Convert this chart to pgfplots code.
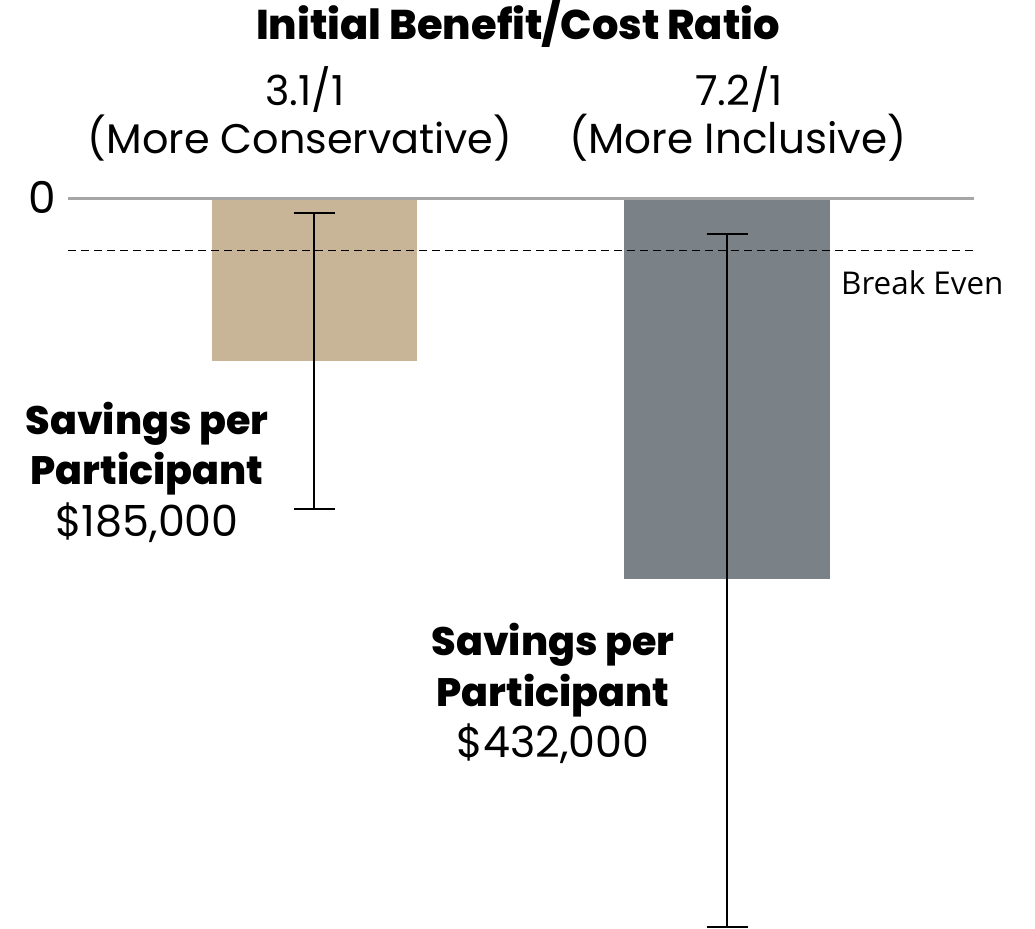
\documentclass[border=0pt]{standalone}
\usepackage{pgfplots}
\pgfplotsset{compat=1.18}
\usepackage{fontspec}
\setmainfont{Poppins}
\newfontfamily\heavy{Poppins}[UprightFont=* ExtraBold]
\newfontfamily\opensans{Open Sans}
\definecolor{tanbar}{HTML}{C8B496}
\definecolor{slatebar}{HTML}{7A8288}
\definecolor{zline}{HTML}{A6A6A6}
\begin{document}
\begin{tikzpicture}[every node/.style={inner sep=0pt}]
\begin{axis}[
  width=1035bp, height=927bp, scale only axis,
  xmin=0, xmax=1035, ymin=-829.3, ymax=223.8,
  hide axis, clip=false,
]
\path (rel axis cs:0,0) rectangle (rel axis cs:1,1);
% bars: savings per participant (thousands of dollars, negative = savings)
\addplot[ybar, bar width=205, fill=tanbar, draw=none] coordinates {(314.5,-185)};
\addplot[ybar, bar width=206, fill=slatebar, draw=none] coordinates {(727,-432)};
% zero line
\addplot[zline, line width=3bp] coordinates {(68,0) (974,0)};
% break even line
\addplot[black, line width=1.3bp, dash pattern=on 8bp off 5bp] coordinates {(68,-59) (975,-59)};
% error bars
\addplot[draw=none, mark=none,
  error bars/.cd, y dir=both, y explicit,
  error bar style={draw=black, line width=2bp},
  error mark=-,
  error mark options={rotate=90, draw=black, line width=2bp, mark size=20.5bp}]
  coordinates {(314,-185) += (0,168) -= (0,168)
               (727,-432) += (0,392) -= (0,395)};
% texts
\node[anchor=base, inner sep=0pt, font=\heavy\fontsize{41.7}{44}\selectfont] at (axis cs:518,180.6) {Initial Benefit/Cost Ratio};
\node[anchor=base, inner sep=0pt, font=\fontsize{41.5}{44}\selectfont] at (axis cs:305,105.6) {3.1/1};
\node[anchor=base, inner sep=0pt, font=\fontsize{41.5}{44}\selectfont] at (axis cs:300,51.1) {(More Conservative)};
\node[anchor=base, inner sep=0pt, font=\fontsize{41.5}{44}\selectfont] at (axis cs:739,105.6) {7.2/1};
\node[anchor=base, inner sep=0pt, font=\fontsize{42.3}{44}\selectfont] at (axis cs:738,51.1) {(More Inclusive)};
\node[anchor=base, inner sep=0pt, font=\fontsize{44}{48}\selectfont] at (axis cs:42,-17) {0};
\node[anchor=base west, inner sep=0pt, font=\opensans\fontsize{31.5}{34}\selectfont] at (axis cs:841,-109.1) {Break Even};
\node[anchor=base, inner sep=0pt, font=\heavy\fontsize{39.8}{42}\selectfont] at (axis cs:147,-268.1) {Savings per};
\node[anchor=base, inner sep=0pt, font=\heavy\fontsize{39.8}{42}\selectfont] at (axis cs:147,-324.9) {Participant};
\node[anchor=base, inner sep=0pt, font=\fontsize{43}{46}\selectfont] at (axis cs:147,-384.0) {\$185,000};
\node[anchor=base, inner sep=0pt, font=\heavy\fontsize{39.8}{42}\selectfont] at (axis cs:553,-519.2) {Savings per};
\node[anchor=base, inner sep=0pt, font=\heavy\fontsize{39.8}{42}\selectfont] at (axis cs:553,-577.1) {Participant};
\node[anchor=base, inner sep=0pt, font=\fontsize{43}{46}\selectfont] at (axis cs:553,-635.0) {\$432,000};
\end{axis}
\end{tikzpicture}
\end{document}
